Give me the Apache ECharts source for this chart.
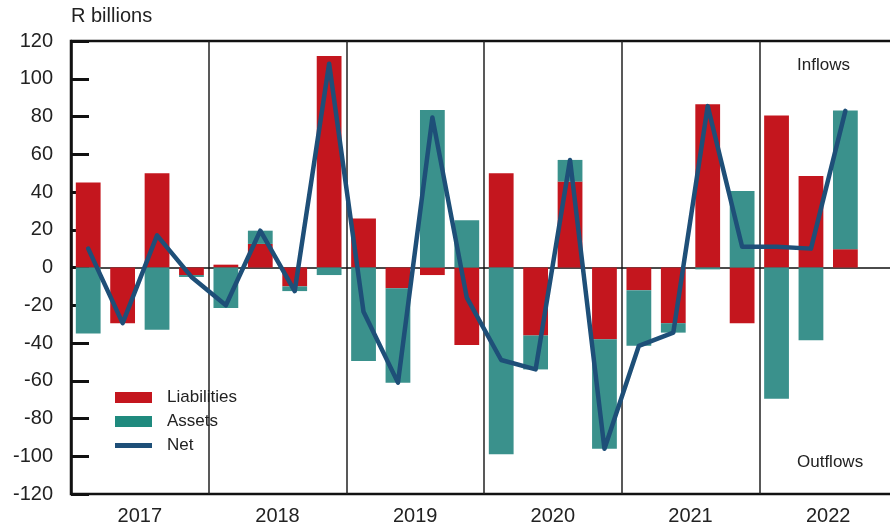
<!DOCTYPE html>
<html>
<head>
<meta charset="utf-8">
<script src="https://cdn.jsdelivr.net/npm/echarts@6/dist/echarts.min.js"></script>
<style>
  html, body { margin: 0; padding: 0; background: #fff; }
  #chart { width: 890px; height: 528px; }
</style>
</head>
<body>
<div id="chart"></div>
<script>
// Quarterly financial flows, R billions
const years = ['2017', '2018', '2019', '2020', '2021', '2022'];
const quarters = [];
years.forEach(y => ['Q1', 'Q2', 'Q3', 'Q4'].forEach(q => quarters.push(y + q)));

const liabilities = [45, -29.5, 50, -4, 1.5, 12.5, -10, 112, 26, -11, -4, -41,
  50, -36, 45.5, -38, -12, -29.5, 86.5, -29.5, 80.5, 48.5, 9.7, null];
const assets = [-35, 0, -33, -1, -21.5, 7, -2.5, -4, -49.5, -50, 83.5, 25,
  -99, -18, 11.5, -58, -29.5, -5, -1, 40.5, -69.5, -38.5, 73.5, null];
const net = [10, -29.5, 17, -5, -20, 19.5, -12.5, 108, -23.5, -61, 79.5, -16,
  -49, -54, 57, -96, -41.5, -34.5, 85.5, 11, 11, 10, 83, null];

const yTicks = { min: -120, max: 120, step: 20 };

const FONT = 'Liberation Sans';
const INK = '#222';

const chart = echarts.init(document.getElementById('chart'), null, { renderer: 'canvas' });

chart.setOption({
  animation: false,
  textStyle: { fontFamily: FONT, color: INK },
  grid: {
    left: 71, top: 41, width: 826, height: 453,
    outerBoundsMode: 'none',
    show: true, borderColor: '#111', borderWidth: 2.5, backgroundColor: 'transparent'
  },
  legend: {
    orient: 'vertical',
    left: 110, top: 384,
    itemWidth: 37, itemHeight: 11, itemGap: 7,
    symbolKeepAspect: true,
    textStyle: { fontFamily: FONT, fontSize: 17, color: INK, padding: [0, 0, 0, 10] },
    data: [
      { name: 'Liabilities', icon: 'rect', itemStyle: { color: '#C4161E' } },
      { name: 'Assets', icon: 'rect', itemStyle: { color: '#1F8A7E' } },
      { name: 'Net', icon: 'path://M0,0H37V5H0Z', itemStyle: { color: '#1E4F78' } }
    ]
  },
  xAxis: [
    {
      type: 'category',
      data: quarters,
      boundaryGap: true,
      axisLine: { show: true, onZero: true, lineStyle: { color: '#111', width: 1.5 } },
      axisTick: { show: false },
      axisLabel: { show: false },
      splitLine: { show: false }
    },
    {
      type: 'category',
      data: years,
      position: 'bottom',
      boundaryGap: true,
      axisLine: { show: false, onZero: false },
      axisTick: { show: false },
      axisLabel: { show: true, fontSize: 20, color: INK, margin: 12, fontFamily: FONT },
      splitLine: { show: true, interval: 0, lineStyle: { color: '#222', width: 1.5 } }
    }
  ],
  yAxis: {
    type: 'value',
    min: yTicks.min, max: yTicks.max, interval: yTicks.step,
    axisLine: { show: true, lineStyle: { color: '#111', width: 2.5 } },
    axisTick: { show: true, inside: true, length: 18, lineStyle: { color: '#111', width: 3 } },
    axisLabel: { fontSize: 20, color: INK, margin: 18, fontFamily: FONT },
    splitLine: { show: false }
  },
  graphic: [
    { type: 'text', left: 71, top: 6, style: { text: 'R billions', font: '20px "Liberation Sans"', fill: INK } },
    { type: 'text', left: 797, top: 57, style: { text: 'Inflows', font: '17px "Liberation Sans"', fill: INK } },
    { type: 'text', left: 797, top: 454, style: { text: 'Outflows', font: '17px "Liberation Sans"', fill: INK } }
  ],
  series: [
    {
      name: 'Liabilities', type: 'bar', stack: 'flows', xAxisIndex: 0,
      data: liabilities, barCategoryGap: '28%',
      itemStyle: { color: '#C4161E' }, z: 2
    },
    {
      name: 'Assets', type: 'bar', stack: 'flows', xAxisIndex: 0,
      data: assets, barCategoryGap: '28%',
      itemStyle: { color: '#3A918C' }, z: 2
    },
    {
      name: 'Net', type: 'line', xAxisIndex: 0, data: net,
      symbol: 'none', showSymbol: false,
      lineStyle: { color: '#1E4F78', width: 4.5, join: 'round', cap: 'round' },
      itemStyle: { color: '#1E4F78' },
      z: 5
    }
  ]
});
</script>
</body>
</html>
